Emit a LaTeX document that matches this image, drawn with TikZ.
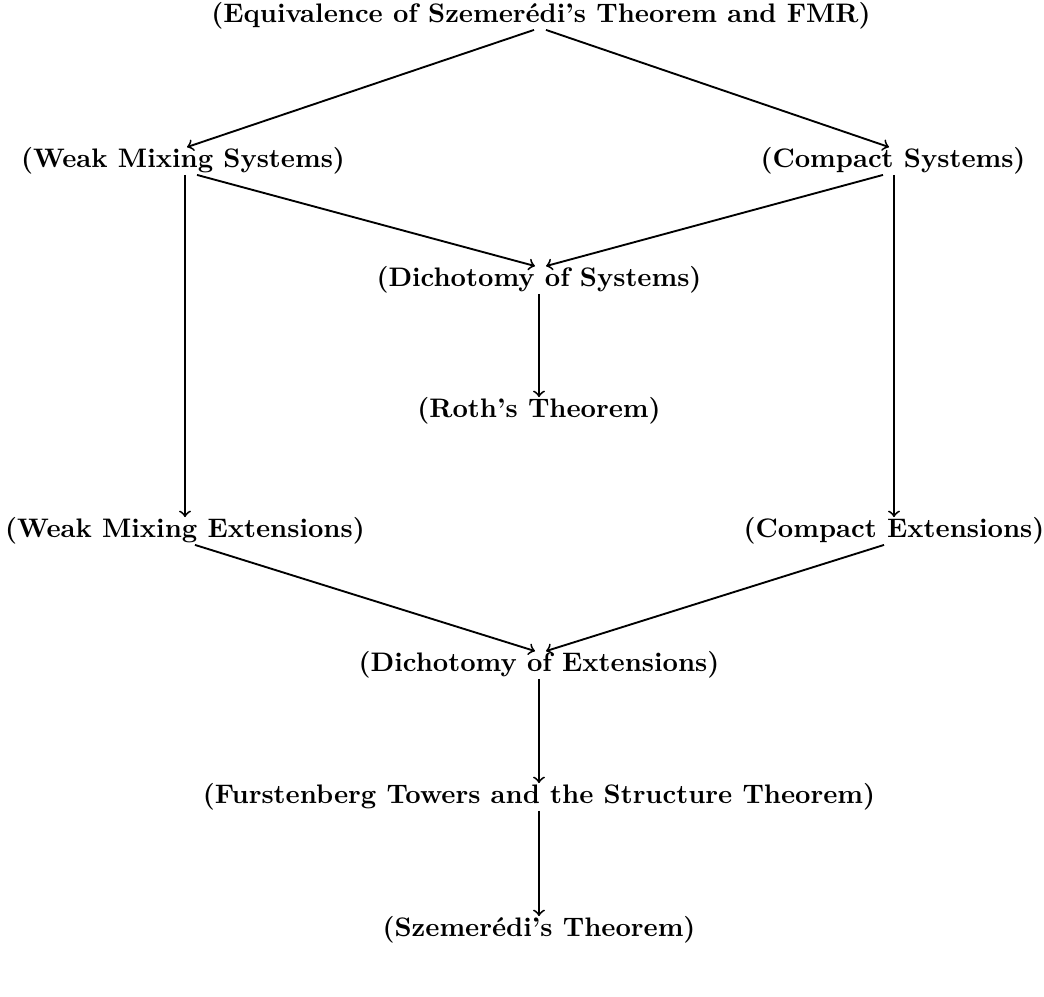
\documentclass[tikz,border=0pt]{standalone}
\usetikzlibrary{calc}
\begin{document}
\begin{tikzpicture}[x=0.3731pt,y=-0.3731pt,
  lbl/.style={inner sep=0pt, font=\bfseries},
  arr/.style={->, line width=0.7pt}]
\useasboundingbox (0,0) rectangle (1044,997);
\node[lbl] (top)   at (541,16)  {(Equivalence of Szemer\'edi's Theorem and FMR)};
\node[lbl] (wms)   at (183,161) {(Weak Mixing Systems)};
\node[lbl] (cs)    at (893,161) {(Compact Systems)};
\node[lbl] (dos)   at (539,280) {(Dichotomy of Systems)};
\node[lbl] (roth)  at (539,411) {(Roth's Theorem)};
\node[lbl] (wme)   at (185,531) {(Weak Mixing Extensions)};
\node[lbl] (ce)    at (894,531) {(Compact Extensions)};
\node[lbl] (doe)   at (539,665) {(Dichotomy of Extensions)};
\node[lbl] (fur)   at (539,797) {(Furstenberg Towers and the Structure Theorem)};
\node[lbl] (sz)    at (539,930) {(Szemer\'edi's Theorem)};
\draw[arr] ($(top.south)+(-7,0)$) -- ($(wms.north)+(4,0)$);
\draw[arr] ($(top.south)+(5,0)$) -- ($(cs.north)+(-4,0)$);
\draw[arr] ($(wms.south)+(14,0)$) -- ($(dos.north)+(-4,0)$);
\draw[arr] ($(cs.south)+(-10,0)$) -- ($(dos.north)+(7,0)$);
\draw[arr] ($(wms.south)+(2,0)$) -- (wme.north);
\draw[arr] ($(cs.south)+(1,0)$) -- (ce.north);
\draw[arr] (dos.south) -- (roth.north);
\draw[arr] ($(wme.south)+(10,0)$) -- ($(doe.north)+(-4,0)$);
\draw[arr] ($(ce.south)+(-10,0)$) -- ($(doe.north)+(7,0)$);
\draw[arr] (doe.south) -- (fur.north);
\draw[arr] (fur.south) -- (sz.north);
\end{tikzpicture}
\end{document}
